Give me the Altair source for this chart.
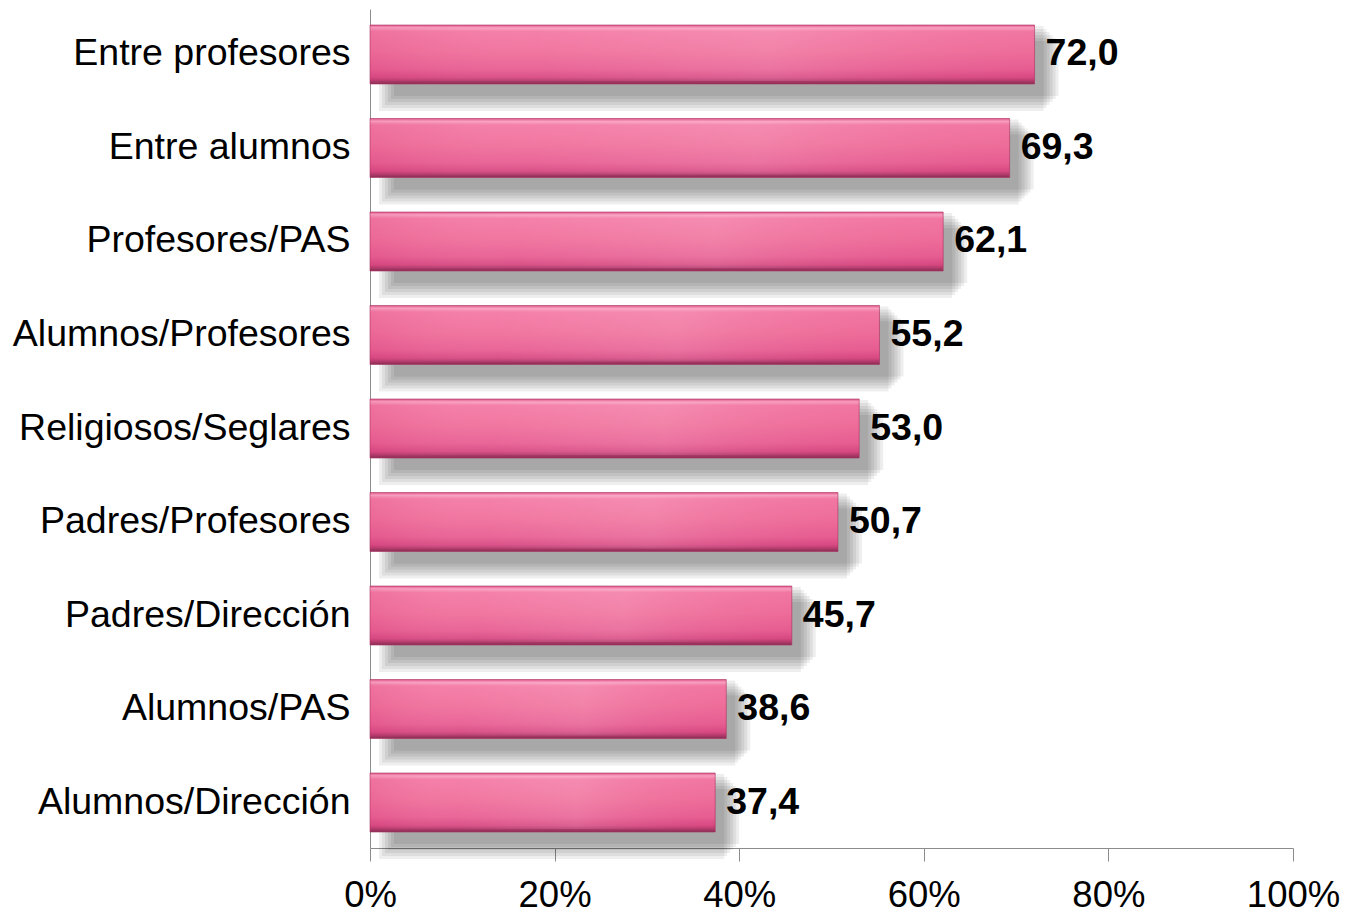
import altair as alt
import pandas as pd

categories = [
    "Entre profesores", "Entre alumnos", "Profesores/PAS", "Alumnos/Profesores",
    "Religiosos/Seglares", "Padres/Profesores", "Padres/Dirección",
    "Alumnos/PAS", "Alumnos/Dirección",
]
values = [72.0, 69.3, 62.1, 55.2, 53.0, 50.7, 45.7, 38.6, 37.4]
x_ticks = [0, 20, 40, 60, 80, 100]

df = pd.DataFrame({
    "cat": categories,
    "val": values,
    "label": [f"{v:.1f}".replace(".", ",") for v in values],
})

FONT = "Liberation Sans"
BAR = 59

y_enc = alt.Y(
    "cat:N", sort=categories, title=None,
    scale=alt.Scale(paddingInner=0.369, paddingOuter=0.171),
    axis=alt.Axis(ticks=False, tickSize=0, labelPadding=20, labelFont=FONT,
                  labelFontSize=37.5, labelColor="#000000", domainColor="#8c8c8c",
                  domainWidth=1, labelLimit=400),
)
x_enc = alt.X(
    "val:Q", title=None,
    scale=alt.Scale(domain=[0, 100], nice=False),
    axis=alt.Axis(values=x_ticks, labelExpr="datum.value + '%'", grid=False,
                  tickSize=13, tickColor="#8c8c8c", domainColor="#8c8c8c",
                  labelPadding=16, labelFont=FONT, labelFontSize=36.5,
                  labelColor="#000000", labelFlush=False),
)

base = alt.Chart(df)

layers = []
for r in [0, 3, 6, 9, 12, 15]:
    layers.append(
        base.mark_bar(color="#000000", opacity=0.068, size=BAR - 4 + 2 * r,
                      xOffset=24 - r, x2Offset=6 + r, yOffset=14)
        .encode(x=x_enc, y=y_enc)
    )

bar_grad = alt.Gradient(
    gradient="linear", x1=0, x2=0, y1=0, y2=1,
    stops=[
        alt.GradientStop(offset=0.0, color="#e0558a"),
        alt.GradientStop(offset=0.05, color="#f9a2c2"),
        alt.GradientStop(offset=0.11, color="#f47ba6"),
        alt.GradientStop(offset=0.45, color="#f0719c"),
        alt.GradientStop(offset=0.75, color="#e86094"),
        alt.GradientStop(offset=0.89, color="#d84b83"),
        alt.GradientStop(offset=0.95, color="#b03a6a"),
        alt.GradientStop(offset=1.0, color="#8a2d55"),
    ],
)
bars = base.mark_bar(color=bar_grad, size=BAR, stroke="#a8325f",
                     strokeWidth=1, strokeOpacity=0.6).encode(x=x_enc, y=y_enc)

overlay_grad = alt.Gradient(
    gradient="linear", x1=0, x2=1, y1=0, y2=0,
    stops=[
        alt.GradientStop(offset=0.0, color="rgba(200,40,100,0.12)"),
        alt.GradientStop(offset=0.25, color="rgba(255,255,255,0.04)"),
        alt.GradientStop(offset=0.6, color="rgba(255,255,255,0.12)"),
        alt.GradientStop(offset=1.0, color="rgba(200,40,100,0.06)"),
    ],
)
overlay = base.mark_bar(color=overlay_grad, size=BAR - 6).encode(x=x_enc, y=y_enc)

text = base.mark_text(align="left", baseline="middle", dx=11, font=FONT,
                      fontSize=37.5, fontWeight="bold", color="#000000").encode(
    x=x_enc, y=y_enc, text="label:N")

chart = alt.layer(*layers, bars, overlay, text).properties(
    width=923, height=839,
    autosize=alt.AutoSizeParams(type="none"),
    padding={"left": 362, "top": 1, "right": 48, "bottom": 67},
).configure(background="#ffffff", view=alt.ViewConfig(stroke=None))

chart.save("out.html", embed_options={"renderer": "svg", "actions": False})
